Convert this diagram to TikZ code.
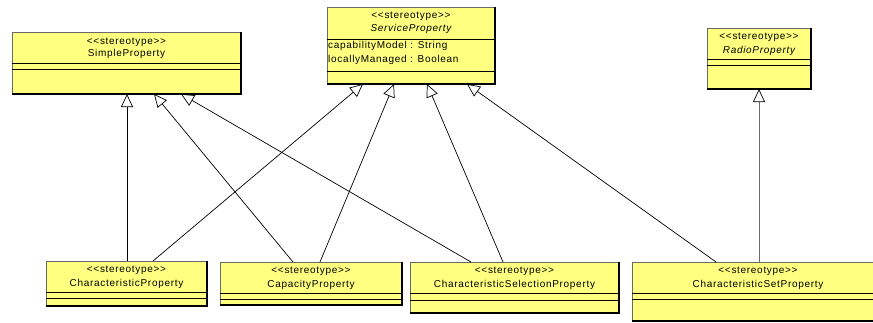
\documentclass[tikz,border=0pt]{standalone}
\usepackage{fontspec}
\setmainfont{Liberation Sans}[LetterSpace=7]
\usetikzlibrary{arrows.meta}
\definecolor{classfill}{RGB}{255,255,128}
\definecolor{edgegray}{RGB}{105,105,105}
\newcommand\stereo{<{}<stereotype>{}>}

\begin{document}
\begin{tikzpicture}[x=1pt,y=-1pt,
  cls/.style={draw=edgegray, fill=classfill, line width=0.8pt, inner sep=0pt, outer sep=0pt, anchor=north west},
  shade/.style={draw=black, line width=1.6pt},
  sep/.style={draw=black, line width=0.8pt},
  txt/.style={inner sep=0pt, font=\fontsize{10}{12}\selectfont},
  attr/.style={txt, anchor=west},
  gen/.style={draw=black, line width=0.7pt, -{Triangle[open,color=black,length=13pt,width=12pt]}},
]
\fill[white] (0,0) rectangle (873,322);
\useasboundingbox (0,0) rectangle (873,322);

% ---- SimpleProperty ----
\node[cls, minimum width=229pt, minimum height=62pt] (simple) at (12,32) {};
\draw[sep] (simple.west |- 0,63) -- (simple.east |- 0,63);
\draw[sep] (simple.west |- 0,69) -- (simple.east |- 0,69);
\draw[shade] (simple.north east) -- (simple.south east) -- (simple.south west);
\node[txt] (simple-st) at (126.5,42) {\stereo};
\node[txt] (simple-nm) at (126.5,54) {SimpleProperty};

% ---- ServiceProperty ----
\node[cls, minimum width=168pt, minimum height=77pt] (service) at (327,7) {};
\draw[sep] (service.west |- 0,39) -- (service.east |- 0,39);
\draw[sep] (service.west |- 0,71) -- (service.east |- 0,71);
\draw[shade] (service.north east) -- (service.south east) -- (service.south west);
\node[txt] (service-st) at (411,16) {\stereo};
\node[txt] (service-nm) at (411,29) {\itshape ServiceProperty};
\node[attr] (service-a1) at (328,45.5) {capabilityModel : String};
\node[attr] (service-a2) at (328,60) {locallyManaged : Boolean};

% ---- RadioProperty ----
\node[cls, minimum width=104pt, minimum height=61pt] (radio) at (707,28) {};
\draw[sep] (radio.west |- 0,59) -- (radio.east |- 0,59);
\draw[sep] (radio.west |- 0,65) -- (radio.east |- 0,65);
\draw[shade] (radio.north east) -- (radio.south east) -- (radio.south west);
\node[txt] (radio-st) at (759,37) {\stereo};
\node[txt] (radio-nm) at (759,51) {\itshape RadioProperty};

% ---- CharacteristicProperty ----
\node[cls, minimum width=161pt, minimum height=45pt] (cprop) at (46,261) {};
\draw[sep] (cprop.west |- 0,292) -- (cprop.east |- 0,292);
\draw[sep] (cprop.west |- 0,298) -- (cprop.east |- 0,298);
\draw[shade] (cprop.north east) -- (cprop.south east) -- (cprop.south west);
\node[txt] (cprop-st) at (126.5,270) {\stereo};
\node[txt] (cprop-nm) at (126.5,283.5) {CharacteristicProperty};

% ---- CapacityProperty ----
\node[cls, minimum width=182pt, minimum height=43pt] (cap) at (220,262) {};
\draw[sep] (cap.west |- 0,293) -- (cap.east |- 0,293);
\draw[sep] (cap.west |- 0,299) -- (cap.east |- 0,299);
\draw[shade] (cap.north east) -- (cap.south east) -- (cap.south west);
\node[txt] (cap-st) at (311,271) {\stereo};
\node[txt] (cap-nm) at (311,284.5) {CapacityProperty};

% ---- CharacteristicSelectionProperty ----
\node[cls, minimum width=209pt, minimum height=51pt] (csel) at (410,262) {};
\draw[sep] (csel.west |- 0,293) -- (csel.east |- 0,293);
\draw[sep] (csel.west |- 0,300) -- (csel.east |- 0,300);
\draw[shade] (csel.north east) -- (csel.south east) -- (csel.south west);
\node[txt] (csel-st) at (514.5,271) {\stereo};
\node[txt] (csel-nm) at (514.5,284.5) {CharacteristicSelectionProperty};

% ---- CharacteristicSetProperty ----
\node[cls, minimum width=252pt, minimum height=59pt] (cset) at (632,262) {};
\draw[sep] (cset.west |- 0,293) -- (cset.east |- 0,293);
\draw[sep] (cset.west |- 0,299) -- (cset.east |- 0,299);
\draw[shade] (cset.north east) -- (cset.south east) -- (cset.south west);
\node[txt] (cset-st) at (758,271) {\stereo};
\node[txt] (cset-nm) at (758,284.5) {CharacteristicSetProperty};

% ---- generalizations ----
\draw[gen] (cprop.north -| 127,0) -- (simple.south -| 127,0);
\draw[gen] (cap.north -| 293,0) -- (simple.south -| 154,0);
\draw[gen] (csel.north -| 471,0) -- (simple.south -| 181,0);
\draw[gen] (cprop.north -| 153,0) -- (service.south -| 363,0);
\draw[gen] (cap.north -| 320,0) -- (service.south -| 394,0);
\draw[gen] (csel.north -| 503,0) -- (service.south -| 427,0);
\draw[gen] (cset.north -| 716,0) -- (service.south -| 467,0);
\draw[gen, draw=gray!85!black] (cset.north -| 759,0) -- (radio.south -| 759,0);
\end{tikzpicture}
\end{document}
